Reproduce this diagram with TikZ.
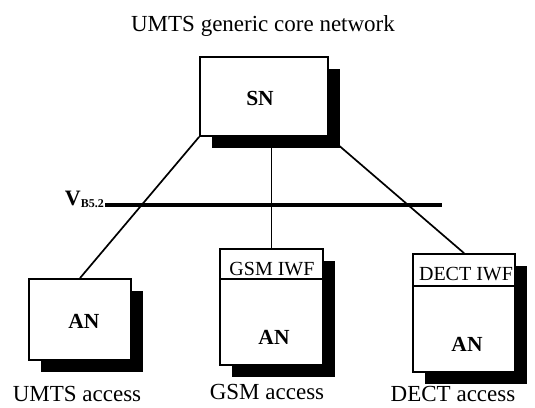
\documentclass[tikz,border=0pt]{standalone}
\usepackage{fontspec}
\setmainfont{Liberation Serif}
\usetikzlibrary{shadows}
\begin{document}
\begin{tikzpicture}[x=1pt,y=-1pt,
  box/.style={draw, line width=1.8pt, fill=white, rectangle, inner sep=0pt,
    drop shadow={shadow xshift=12pt, shadow yshift=-12pt, fill=black, opacity=1}},
  link/.style={line width=1.7pt},
  bus/.style={line width=3.8pt},
  caption/.style={font=\fontsize{23}{23}\selectfont, anchor=base, inner sep=0pt},
  iwf/.style={font=\fontsize{20}{20}\selectfont, anchor=base, inner sep=0pt},
  boxlabel/.style={font=\fontsize{21.5}{21.5}\selectfont\bfseries, inner sep=0pt}]
  \useasboundingbox (0,0) rectangle (535,407);

  % title
  \node[caption] (title) at (263,31) {UMTS generic core network};

  % boxes
  \node[box, minimum width=128pt, minimum height=79pt] (sn) at (264,96.5) {};
  \node[box, minimum width=102pt, minimum height=81pt] (umts) at (80,319.5) {};
  \node[box, minimum width=103pt, minimum height=116pt] (gsm) at (271.5,307) {};
  \node[box, minimum width=102pt, minimum height=118pt] (dect) at (464,313) {};

  % box texts
  \node[boxlabel] (sntxt) at (260,98) {SN};
  \node[boxlabel] (umtsan) at (84,321.5) {AN};
  \node[boxlabel] (gsman) at (274,337.5) {AN};
  \node[boxlabel] (dectan) at (467,344.5) {AN};

  % interworking function compartments
  \draw[line width=1.5pt] ([yshift=-31pt]gsm.north west) -- ([yshift=-31pt]gsm.north east);
  \draw[line width=1.5pt] ([yshift=-33pt]dect.north west) -- ([yshift=-33pt]dect.north east);
  \node[iwf] (gsmiwf) at (272,275) {GSM IWF};
  \node[iwf] (dectiwf) at (466,280) {DECT IWF};

  % links from the serving node
  \draw[link] (sn.south west) -- (umts.north);
  \draw[link] (gsm.north) -- (gsm.north |- sn.south);
  \draw[link] (sn.south east) -- (dect.north);

  % reference point bar
  \coordinate (barL) at (105,205);
  \coordinate (barR) at (442,205);
  \draw[bus] (barL) -- (barR);
  \node[anchor=base east, inner sep=0pt, font=\fontsize{22}{22}\selectfont\bfseries] (vref)
    at ([xshift=-1pt]barL) {V\raisebox{-2pt}{\fontsize{12}{12}\selectfont B5.2}};

  % access labels
  \node[caption] (umtslbl) at (77,401) {UMTS access};
  \node[caption] (gsmlbl) at (267,399) {GSM access};
  \node[caption] (dectlbl) at (453,401) {DECT access};
\end{tikzpicture}
\end{document}
